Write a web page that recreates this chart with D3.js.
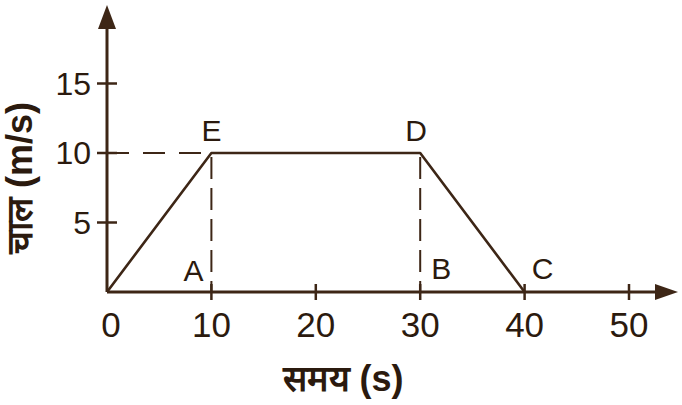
<!DOCTYPE html>
<meta charset="utf-8">
<script src="https://d3js.org/d3.v7.min.js"></script>
<style>
  body { margin: 0; background: #fff; }
  text { font-family: "Liberation Sans", Arial, sans-serif; fill: #2b1a0e; }
</style>
<div id="chart"></div>
<script>
// data
var time = [0, 10, 30, 40];
var speed = [0, 10, 10, 0];
var pointNames = ["", "E", "D", "C"];
var footNames = ["A", "B"];       // feet of the dashed drops
var footTimes = [10, 30];
var xTicks = [0, 10, 20, 30, 40, 50];
var yTicks = [5, 10, 15];
var xTitle = "समय (s)";
var yTitle = "चाल (m/s)";

var W = 682, H = 405;
var ink = "#3d2616";

var svg = d3.select("#chart").append("svg")
    .attr("width", W)
    .attr("height", H);

var x = d3.scaleLinear().domain([0, 50]).range([107, 629]);
var y = d3.scaleLinear().domain([0, 10]).range([292, 153]);

var x0 = x(0), y0 = y(0);

// axes lines
svg.append("line")
    .attr("x1", x0).attr("y1", y0)
    .attr("x2", 660).attr("y2", y0)
    .attr("stroke", ink).attr("stroke-width", 3);
svg.append("line")
    .attr("x1", x0).attr("y1", y0)
    .attr("x2", x0).attr("y2", 24)
    .attr("stroke", ink).attr("stroke-width", 3);

// arrow heads
svg.append("path")
    .attr("d", "M678," + y0 + "L655," + (y0 - 8) + "L655," + (y0 + 8) + "Z")
    .attr("fill", ink);
svg.append("path")
    .attr("d", "M" + x0 + ",5L" + (x0 - 9) + ",29L" + (x0 + 9) + ",29Z")
    .attr("fill", ink);

// x ticks
svg.selectAll(".xt")
  .data(xTicks.filter(function(d) { return d > 0; }))
  .enter().append("line")
    .attr("x1", function(d) { return x(d); })
    .attr("x2", function(d) { return x(d); })
    .attr("y1", y0 - 8).attr("y2", y0 + 8)
    .attr("stroke", ink).attr("stroke-width", 2.5);

svg.selectAll(".xl")
  .data(xTicks)
  .enter().append("text")
    .attr("x", function(d) { return x(d) + (d === 0 ? 4 : 0); })
    .attr("y", 337)
    .attr("text-anchor", "middle")
    .style("font-size", "35px")
    .text(function(d) { return d; });

// y ticks
svg.selectAll(".yt")
  .data(yTicks)
  .enter().append("line")
    .attr("x1", x0 - 10).attr("x2", x0 + 10)
    .attr("y1", function(d) { return y(d); })
    .attr("y2", function(d) { return y(d); })
    .attr("stroke", ink).attr("stroke-width", 2.5);

svg.selectAll(".yl")
  .data(yTicks)
  .enter().append("text")
    .attr("x", 91)
    .attr("y", function(d) { return y(d) + 11; })
    .attr("text-anchor", "end")
    .style("font-size", "32px")
    .text(function(d) { return d; });

// dashed guides
svg.append("line")
    .attr("x1", x0).attr("x2", x(10))
    .attr("y1", y(10)).attr("y2", y(10))
    .attr("stroke", ink).attr("stroke-width", 2)
    .attr("stroke-dasharray", "22,14");
svg.selectAll(".drop")
  .data(footTimes)
  .enter().append("line")
    .attr("x1", function(d) { return x(d); })
    .attr("x2", function(d) { return x(d); })
    .attr("y1", y(10) + 4).attr("y2", y0)
    .attr("stroke", ink).attr("stroke-width", 2)
    .attr("stroke-dasharray", "22,9");

// speed-time line
var pts = time.map(function(t, i) { return [t, speed[i]]; });
svg.append("path")
    .datum(pts)
    .attr("d", d3.line()
      .x(function(d) { return x(d[0]); })
      .y(function(d) { return y(d[1]); }))
    .attr("fill", "none")
    .attr("stroke", ink)
    .attr("stroke-width", 2.6)
    .attr("stroke-linejoin", "round");

// point labels
var lab = 30;
svg.append("text").attr("x", x(10)).attr("y", 141)
    .attr("text-anchor", "middle").style("font-size", lab + "px").text(pointNames[1]);
svg.append("text").attr("x", x(30) - 4).attr("y", 141)
    .attr("text-anchor", "middle").style("font-size", lab + "px").text(pointNames[2]);
svg.append("text").attr("x", x(40) + 18).attr("y", 279)
    .attr("text-anchor", "middle").style("font-size", lab + "px").text(pointNames[3]);
svg.append("text").attr("x", x(footTimes[0]) - 18).attr("y", 281)
    .attr("text-anchor", "middle").style("font-size", lab + "px").text(footNames[0]);
svg.append("text").attr("x", x(footTimes[1]) + 21).attr("y", 279)
    .attr("text-anchor", "middle").style("font-size", lab + "px").text(footNames[1]);

// axis titles
svg.append("text")
    .attr("x", 343).attr("y", 391)
    .attr("text-anchor", "middle")
    .style("font-size", "36px")
    .style("font-weight", "bold")
    .text(xTitle);

svg.append("text")
    .attr("transform", "translate(32,178) rotate(-90)")
    .attr("text-anchor", "middle")
    .style("font-size", "36px")
    .style("font-weight", "bold")
    .text(yTitle);
</script>
